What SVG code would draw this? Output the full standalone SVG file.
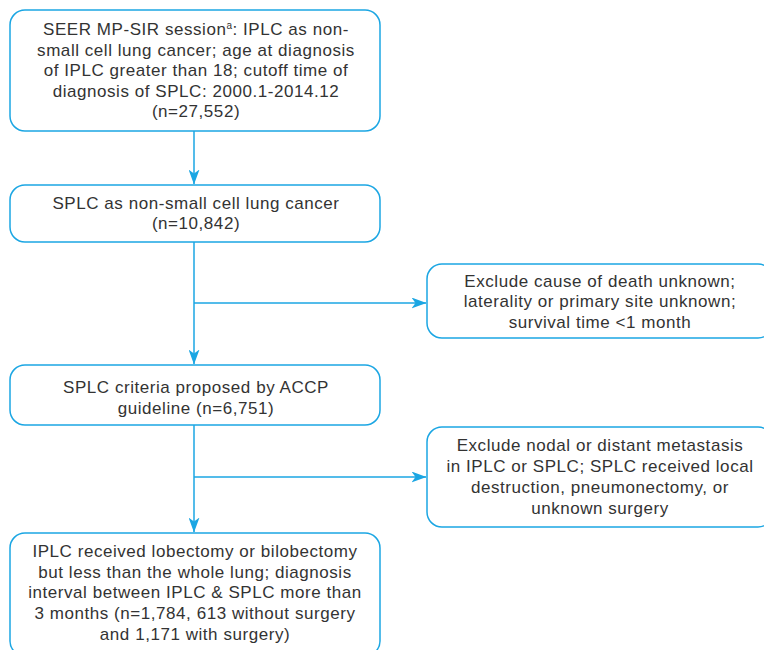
<svg xmlns="http://www.w3.org/2000/svg" width="764" height="650" viewBox="0 0 764 650">
<style>
.box{fill:#fff;stroke:#1ba6e3;stroke-width:1.5}
.t{font-family:"Liberation Sans",Arial,sans-serif;font-size:17px;letter-spacing:0.55px;fill:#333;text-anchor:middle}
.c{fill:none;stroke:#1ba6e3;stroke-width:1.5}
</style>
<defs>
<marker id="ah" viewBox="0 0 15 11" refX="14.5" refY="5.5" markerWidth="15" markerHeight="11" markerUnits="userSpaceOnUse" orient="auto">
<path d="M0,0 L15,5.5 L0,11 L4,5.5 Z" fill="#1ba6e3"/>
</marker>
</defs>
<rect width="764" height="650" fill="#fff"/>
<g id="connectors">
<line class="c" x1="194" y1="131" x2="194" y2="184" marker-end="url(#ah)"/>
<line class="c" x1="194" y1="242" x2="194" y2="364" marker-end="url(#ah)"/>
<line class="c" x1="194" y1="303" x2="426" y2="303" marker-end="url(#ah)"/>
<line class="c" x1="194" y1="425" x2="194" y2="532" marker-end="url(#ah)"/>
<line class="c" x1="194" y1="477" x2="426" y2="477" marker-end="url(#ah)"/>
</g>
<g id="n1">
<rect class="box" x="10" y="10" width="370" height="121" rx="15"/>
<text class="t" x="196" y="35">SEER MP-SIR session<tspan font-size="10px" dy="-6">a</tspan><tspan dy="6">: IPLC as non-</tspan></text>
<text class="t" x="196" y="56">small cell lung cancer; age at diagnosis</text>
<text class="t" x="196" y="76">of IPLC greater than 18; cutoff time of</text>
<text class="t" x="196" y="97">diagnosis of SPLC: 2000.1-2014.12</text>
<text class="t" x="196" y="117">(n=27,552)</text>
</g>
<g id="n2">
<rect class="box" x="10" y="185" width="370" height="57" rx="15"/>
<text class="t" x="196" y="209">SPLC as non-small cell lung cancer</text>
<text class="t" x="196" y="229">(n=10,842)</text>
</g>
<g id="n3">
<rect class="box" x="427" y="264" width="346" height="74" rx="15"/>
<text class="t" x="600" y="287">Exclude cause of death unknown;</text>
<text class="t" x="600" y="307">laterality or primary site unknown;</text>
<text class="t" x="600" y="328">survival time &lt;1 month</text>
</g>
<g id="n4">
<rect class="box" x="10" y="365" width="370" height="60" rx="15"/>
<text class="t" x="196" y="393">SPLC criteria proposed by ACCP</text>
<text class="t" x="196" y="414">guideline (n=6,751)</text>
</g>
<g id="n5">
<rect class="box" x="427" y="427" width="346" height="100" rx="15"/>
<text class="t" x="600" y="451">Exclude nodal or distant metastasis</text>
<text class="t" x="600" y="472">in IPLC or SPLC; SPLC received local</text>
<text class="t" x="600" y="493">destruction, pneumonectomy, or</text>
<text class="t" x="600" y="514">unknown surgery</text>
</g>
<g id="n6">
<rect class="box" x="10" y="533" width="370" height="123" rx="15"/>
<text class="t" x="195" y="557">IPLC received lobectomy or bilobectomy</text>
<text class="t" x="195" y="578">but less than the whole lung; diagnosis</text>
<text class="t" x="195" y="598">interval between IPLC &amp; SPLC more than</text>
<text class="t" x="195" y="619">3 months (n=1,784, 613 without surgery</text>
<text class="t" x="195" y="640">and 1,171 with surgery)</text>
</g>
</svg>
